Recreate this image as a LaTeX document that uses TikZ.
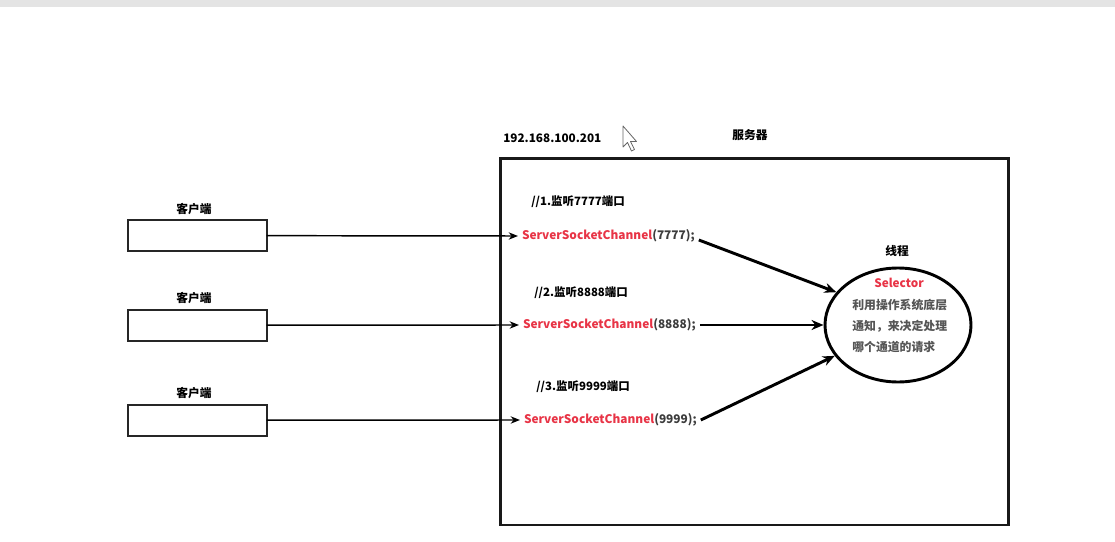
\documentclass[tikz,border=0pt]{standalone}
\usepackage{fontspec}
\setmainfont{Noto Sans CJK SC}
\usetikzlibrary{shapes.geometric,arrows.meta}
\definecolor{codered}{RGB}{232,52,70}
\definecolor{codegray}{RGB}{60,60,60}
\definecolor{selgray}{RGB}{85,85,85}
\definecolor{bandgray}{RGB}{228,228,228}
\tikzset{
  clientbox/.style={draw=black!85, line width=1.5pt, minimum width=104pt, minimum height=23.5pt, inner sep=0pt, outer sep=0pt},
  label/.style={font=\bfseries\fontsize{8.8pt}{10pt}\selectfont, inner sep=0pt},
  comment/.style={font=\bfseries\fontsize{8.6pt}{10pt}\selectfont, inner sep=0pt, anchor=west},
  code/.style={font=\bfseries\fontsize{8.9pt}{10pt}\selectfont, inner sep=0pt, outer sep=3pt, anchor=west},
  thin arrow/.style={line width=1.1pt, -{Stealth[length=7pt,width=5.5pt]}},
  thick arrow/.style={line width=2.2pt, -{Stealth[length=9pt,width=7.5pt]}},
  seltext/.style={font=\bfseries\fontsize{8.9pt}{10pt}\selectfont, text=selgray, inner sep=0pt, anchor=west},
}
\begin{document}
\begin{tikzpicture}[x=0.75pt,y=-0.75pt]
\useasboundingbox (0,0) rectangle (1115,542);
\fill[white] (0,0) rectangle (1115,542);
\fill[bandgray] (0,0) rectangle (1115,7);

% server box
\node[draw=black!90, line width=2.1pt, minimum width=381pt, minimum height=275pt, inner sep=0pt, anchor=north west] (server) at (499,157) {};
\node[label, anchor=west] (ip) at (503,138) {192.168.100.201};
\node[label] (srvlabel) at (750,135) {服务器};

% mouse cursor
\draw[black!60, line width=0.6pt, fill=white, line join=round] (623,126) -- (623,147) -- (627.5,142.5) -- (631.5,151) -- (634.5,149.5) -- (630.5,141.5) -- (636.5,141.5) -- cycle;

% clients
\node[clientbox, anchor=north west] (b1) at (128,220) {};
\node[clientbox, anchor=north west] (b2) at (128,309.5) {};
\node[clientbox, anchor=north west] (b3) at (128,404.5) {};
\node[label] (l1) at (194,209) {客户端};
\node[label] (l2) at (194,298) {客户端};
\node[label] (l3) at (194,393) {客户端};

% comments
\node[comment] (m1) at (531,202) {//1.监听7777端口};
\node[comment] (m2) at (534,293) {//2.监听8888端口};
\node[comment] (m3) at (536,387) {//3.监听9999端口};

% code lines
\node[code] (c1) at (518,236) {\textcolor{codered}{ServerSocketChannel}\textcolor{codegray}{(7777);}};
\node[code] (c2) at (519,325) {\textcolor{codered}{ServerSocketChannel}\textcolor{codegray}{(8888);}};
\node[code] (c3) at (520,420) {\textcolor{codered}{ServerSocketChannel}\textcolor{codegray}{(9999);}};

% selector ellipse
\node[draw=black, line width=2.2pt, ellipse, minimum width=109.5pt, minimum height=85.5pt, inner sep=0pt] (sel) at (898,325) {};
\node[label] (thread) at (897,251) {线程};
\node[label, text=codered] (selname) at (899,283) {Selector};
\node[seltext] (s1) at (852,305) {利用操作系统底层};
\node[seltext] (s2) at (852,326) {通知，来决定处理};
\node[seltext] (s3) at (852,347) {哪个通道的请求};

% connectors
\draw[thin arrow] (b1.east) -- (c1.west);
\draw[thin arrow] (b2.east) -- (c2.west);
\draw[thin arrow] (b3.east) -- (c3.west);
\draw[thick arrow] ([yshift=-3pt]c1.east) -- (sel.152);
\draw[thick arrow] (c2.east) -- (sel.180);
\draw[thick arrow] (c3.east) -- (sel.206);
\end{tikzpicture}
\end{document}
